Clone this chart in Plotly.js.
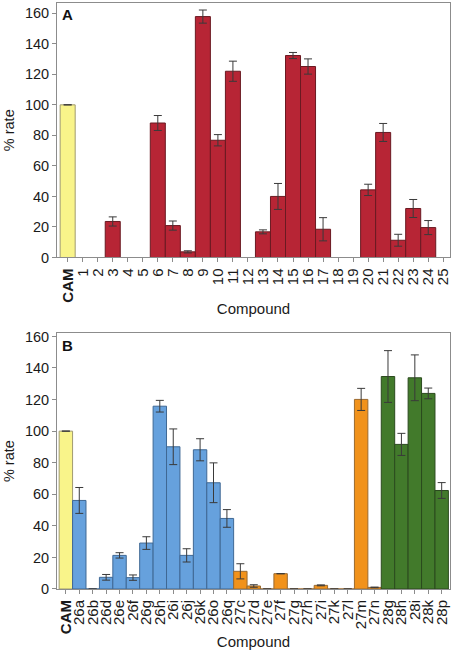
<!DOCTYPE html>
<html>
<head>
<meta charset="utf-8">
<script src="https://cdn.plot.ly/plotly-3.0.1.min.js"></script>
<style>
html,body{margin:0;padding:0;background:#fff;}
#chart{width:454px;height:650px;}
</style>
</head>
<body>
<div id="chart"></div>
<script>
// ---- Panel A data ----
const categoriesA = ['CAM','1','2','3','4','5','6','7','8','9','10','11','12','13','14','15','16','17','18','19','20','21','22','23','24','25'];
const valuesA = [100,0,0,23.6,0,0,88.1,20.9,3.7,157.8,76.8,122,0,16.8,40,132.3,125.1,18.5,0,0,44.3,81.9,11.3,32.1,19.6,0];
const errorsA = [null,null,null,3,null,null,4.9,3,0.7,4.3,3.7,6.6,null,1.3,8.5,2,5,7.6,null,null,3.7,5.9,3.9,5.9,4.6,null];

// ---- Panel B data ----
const categoriesB = ['CAM','26a','26b','26d','26e','26f','26g','26h','26i','26j','26k','26o','26q','27c','27d','27e','27f','27g','27h','27i','27k','27l','27m','27n','28g','28h','28i','28k','28p'];
const valuesB = [100,56.1,0,7.4,21.3,7.2,29.1,115.8,90.1,21.3,88.2,67.3,44.7,11.2,1.9,0,9.7,0,0,2.3,0,0,120.1,1.0,134.6,91.6,133.8,123.9,62.4];
const errorsB = [null,8.2,null,1.8,1.7,1.7,4,3.7,11.3,4.2,7,12.6,5.6,4.8,0.8,null,null,null,null,0.3,null,null,7,0.2,16.4,7,14.5,3.4,5];
const groupsB = ['CAM','26','26','26','26','26','26','26','26','26','26','26','26','27','27','27','27','27','27','27','27','27','27','27','28','28','28','28','28'];
const groupsA = categoriesA.map(c => c === 'CAM' ? 'CAM' : 'A');

const fill = {CAM:'#f9f48a', A:'#b72535', '26':'#66a1dd', '27':'#f1921b', '28':'#427a2b'};
const edge = {CAM:'#a09a70', A:'#6a1a22', '26':'#3f6894', '27':'#9a6a30', '28':'#2b4a1e'};

const tickFmt = c => c === 'CAM' ? '<b>CAM</b>' : c;

const errStyle = {type:'data', visible:true, color:'#3a3a3a', thickness:1, width:4};

const traceA = {
  type:'bar', x:categoriesA, y:valuesA, xaxis:'x', yaxis:'y',
  marker:{color:groupsA.map(g=>fill[g]), line:{color:groupsA.map(g=>edge[g]), width:1}},
  error_y:Object.assign({array:errorsA}, errStyle),
  hoverinfo:'x+y', showlegend:false
};
const traceB = {
  type:'bar', x:categoriesB, y:valuesB, xaxis:'x2', yaxis:'y2',
  marker:{color:groupsB.map(g=>fill[g]), line:{color:groupsB.map(g=>edge[g]), width:1}},
  error_y:Object.assign({array:errorsB}, errStyle),
  hoverinfo:'x+y', showlegend:false
};

const font = {family:'"Liberation Sans", Arial, sans-serif', color:'#1a1a1a'};
const axisCommon = {
  showline:true, linecolor:'#8c8c8c', linewidth:1, mirror:true,
  showgrid:false, zeroline:false, ticks:'outside', tickcolor:'#8c8c8c', ticklen:4
};

const layout = {
  width:454, height:650,
  margin:{l:57, r:4, t:3, b:61},
  paper_bgcolor:'#fff', plot_bgcolor:'#fff',
  font:Object.assign({size:14}, font),
  bargap:0,
  xaxis:Object.assign({}, axisCommon, {
    domain:[0,1], anchor:'y', type:'category',
    range:[-0.71, 25.45],
    tickvals:categoriesA, ticktext:categoriesA.map(tickFmt),
    tickangle:-90, tickfont:{size:15, family:font.family, color:'#1a1a1a'},
    title:{text:'Compound', font:{size:15, family:font.family, color:'#1a1a1a'}, standoff:1}
  }),
  yaxis:Object.assign({}, axisCommon, {
    domain:[0.5657, 1], anchor:'x',
    range:[0, 166.7], tickvals:[0,20,40,60,80,100,120,140,160],
    tickfont:{size:14.5, family:font.family, color:'#1a1a1a'},
    title:{text:'% rate', font:{size:14.5, family:font.family, color:'#1a1a1a'}, standoff:6}
  }),
  xaxis2:Object.assign({}, axisCommon, {
    domain:[0,1], anchor:'y2', type:'category',
    range:[-0.66, 28.62],
    tickvals:categoriesB, ticktext:categoriesB.map(tickFmt),
    tickangle:-90, tickfont:{size:15, family:font.family, color:'#1a1a1a'},
    title:{text:'Compound', font:{size:15, family:font.family, color:'#1a1a1a'}, standoff:8}
  }),
  yaxis2:Object.assign({}, axisCommon, {
    domain:[0, 0.4364], anchor:'x2',
    range:[0, 162], tickvals:[0,20,40,60,80,100,120,140,160],
    tickfont:{size:14.5, family:font.family, color:'#1a1a1a'},
    title:{text:'% rate', font:{size:14.5, family:font.family, color:'#1a1a1a'}, standoff:6}
  }),
  annotations:[
    {text:'<b>A</b>', xref:'paper', yref:'paper', x:0.008, y:0.998, xanchor:'left', yanchor:'top', showarrow:false, font:{size:15, family:font.family, color:'#111'}},
    {text:'<b>B</b>', xref:'paper', yref:'paper', x:0.008, y:0.434, xanchor:'left', yanchor:'top', showarrow:false, font:{size:15, family:font.family, color:'#111'}}
  ]
};

Plotly.newPlot('chart', [traceA, traceB], layout, {staticPlot:true, displayModeBar:false});
</script>
</body>
</html>
